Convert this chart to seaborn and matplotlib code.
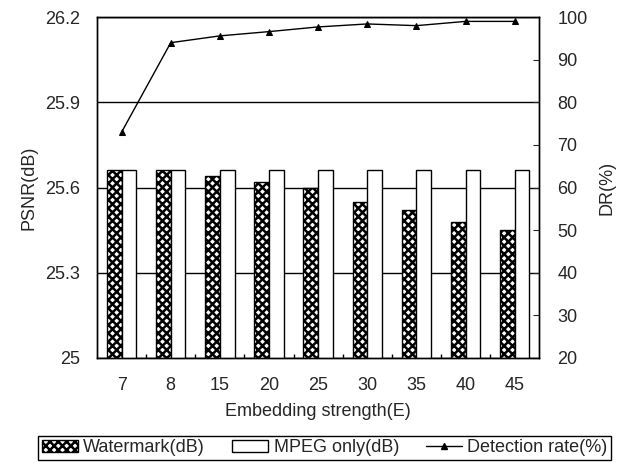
#!/usr/bin/env python3
import matplotlib
matplotlib.use("Agg")
import matplotlib.pyplot as plt
from matplotlib.patches import Patch
from matplotlib.lines import Line2D
import seaborn as sns
import pandas as pd

strength = ["7", "8", "15", "20", "25", "30", "35", "40", "45"]
watermark_db = [25.66, 25.66, 25.64, 25.62, 25.60, 25.55, 25.52, 25.48, 25.45]
mpeg_db = [25.66, 25.66, 25.66, 25.66, 25.66, 25.66, 25.66, 25.66, 25.66]
detection_rate = [73.0, 94.0, 95.6, 96.6, 97.7, 98.4, 98.0, 99.0, 99.0]

series_names = ["Watermark(dB)", "MPEG only(dB)"]

bars = pd.DataFrame({
    "E": strength * 2,
    "PSNR": watermark_db + mpeg_db,
    "series": [series_names[0]] * len(strength) + [series_names[1]] * len(strength),
})
dr = pd.DataFrame({"E": strength, "DR": detection_rate})

sns.set_style("white")
plt.rcParams["font.family"] = ["Liberation Sans", "DejaVu Sans"]
plt.rcParams["hatch.linewidth"] = 1.8
fs = 13

fig = plt.figure(figsize=(6.22, 4.63), dpi=100)
ax = fig.add_axes([0.156, 0.227, 0.711, 0.736])

sns.barplot(data=bars, x="E", y="PSNR", hue="series", order=strength,
            hue_order=series_names, width=0.6, ax=ax, legend=False,
            palette=["white", "white"], edgecolor="black", linewidth=1.0,
            saturation=1)
n = len(strength)
for i, p in enumerate(ax.patches[:2 * n]):
    if i < n:
        p.set_hatch("xxxx")
    p.set_zorder(2)

ax.set_ylim(25, 26.2)
ax.set_yticks([25, 25.3, 25.6, 25.9, 26.2])
ax.set_yticklabels(["25", "25.3", "25.6", "25.9", "26.2"])
ax.yaxis.grid(True, color="black", linewidth=1.0)
ax.set_axisbelow(True)
ax.set_xlabel("Embedding strength(E)", fontsize=fs, labelpad=6)
ax.set_ylabel("PSNR(dB)", fontsize=fs, labelpad=6)
ax.tick_params(axis="y", labelsize=fs, length=0, pad=12)
ax.tick_params(axis="x", labelsize=fs, length=0, pad=14)
ax.set_xticks([i + 0.5 for i in range(n - 1)], minor=True)
ax.tick_params(axis="x", which="minor", direction="in", length=3,
               width=1.0, color="black", bottom=True)
for s in ax.spines.values():
    s.set_color("black")
    s.set_linewidth(1.0)

ax2 = ax.twinx()
sns.pointplot(data=dr, x="E", y="DR", order=strength, color="black",
              markers="^", markersize=5, linewidth=1.0, ax=ax2)
ax2.set_ylim(20, 100)
ax2.set_yticks(range(20, 101, 10))
ax2.set_ylabel("DR(%)", fontsize=fs, labelpad=8)
ax2.tick_params(labelsize=fs, direction="in", length=4, pad=13)
ax2.grid(False)
for s in ax2.spines.values():
    s.set_color("black")
    s.set_linewidth(1.0)

handles = [
    Patch(facecolor="white", edgecolor="black", hatch="xxxx"),
    Patch(facecolor="white", edgecolor="black"),
    Line2D([], [], color="black", marker="^", markersize=4, linewidth=1.0),
]
labels = series_names + ["Detection rate(%)"]
fig.legend(handles, labels, loc="center", bbox_to_anchor=(0.522, 0.033),
           ncol=3, fontsize=fs, frameon=True, fancybox=False,
           edgecolor="black", framealpha=1, handlelength=2.0,
           handletextpad=0.3, columnspacing=1.5, borderpad=0.2)

fig.savefig("out.png", dpi=100)
